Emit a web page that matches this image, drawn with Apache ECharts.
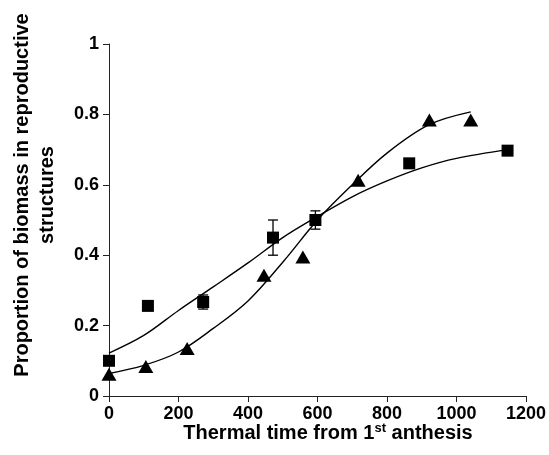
<!DOCTYPE html>
<html>
<head>
<meta charset="utf-8">
<script src="https://cdn.jsdelivr.net/npm/echarts@6/dist/echarts.min.js"></script>
<style>
  html, body { margin: 0; padding: 0; background: #fff; }
  #chart { width: 549px; height: 455px; }
</style>
</head>
<body>
<div id="chart"></div>
<script>
// observed points: squares (with error bars) and triangles
var squareX = [0, 112, 271, 472, 594, 864, 1147];
var squareY = [0.10, 0.256, 0.267, 0.45, 0.50, 0.661, 0.697];
var squareErr = [0.006, 0.012, 0.02, 0.05, 0.026, 0.012, 0.01];

var triangleX = [0, 106, 225, 446, 558, 717, 922, 1041];
var triangleY = [0.062, 0.084, 0.135, 0.343, 0.395, 0.613, 0.784, 0.784];

// fitted curves
var squareFitX = [0, 100, 200, 300, 400, 500, 600, 700, 800, 900, 1000, 1147];
var squareFitY = [0.122, 0.172, 0.243, 0.31, 0.378, 0.45, 0.51, 0.566, 0.611, 0.648, 0.675, 0.70];
var triangleFitX = [0, 100, 200, 300, 400, 500, 600, 700, 800, 920, 1041];
var triangleFitY = [0.064, 0.087, 0.125, 0.192, 0.27, 0.38, 0.50, 0.60, 0.69, 0.77, 0.807];

var xTicks = [0, 200, 400, 600, 800, 1000, 1200];

var pairs = function (xs, ys) {
    var res = [];
    for (var i = 0; i < xs.length; i++) {
        res.push([xs[i], ys[i]]);
    }
    return res;
};

var errData = [];
for (var i = 0; i < squareX.length; i++) {
    errData.push([squareX[i], squareY[i] - squareErr[i], squareY[i] + squareErr[i]]);
}

var fontFam = 'Liberation Sans, Arial, sans-serif';
var labelFont = { color: '#000', fontSize: 18, fontWeight: 'bold', fontFamily: fontFam };
var lineColor = '#222';

var chart = echarts.init(document.getElementById('chart'));
chart.setOption({
    animation: false,
    backgroundColor: '#fff',
    grid: { left: 109, right: 23, top: 44, bottom: 59 },
    xAxis: {
        type: 'value',
        min: xTicks[0],
        max: xTicks[xTicks.length - 1],
        interval: 200,
        splitLine: { show: false },
        axisLine: { lineStyle: { color: lineColor, width: 1 } },
        axisTick: { show: true, inside: false, length: 6, lineStyle: { color: lineColor } },
        axisLabel: Object.assign({ margin: 9, formatter: function (v) { return String(v); } }, labelFont)
    },
    yAxis: {
        type: 'value',
        min: 0,
        max: 1,
        interval: 0.2,
        splitLine: { show: false },
        axisLine: { show: true, lineStyle: { color: lineColor, width: 1 } },
        axisTick: { show: true, inside: false, length: 6, lineStyle: { color: lineColor } },
        axisLabel: Object.assign({ margin: 10, formatter: function (v) { return String(Math.round(v * 10) / 10); } }, labelFont)
    },
    graphic: [
        {
            type: 'text',
            x: 35,
            y: 195,
            rotation: Math.PI / 2,
            style: {
                text: 'Proportion of biomass in reproductive\nstructures',
                fill: '#000',
                font: 'bold 20px ' + fontFam,
                align: 'center',
                verticalAlign: 'middle',
                lineHeight: 25
            }
        },
        {
            type: 'text',
            x: 328,
            y: 433,
            style: {
                text: '{a|Thermal time from 1}{s|st}{a| anthesis}',
                align: 'center',
                verticalAlign: 'middle',
                rich: {
                    a: { fill: '#000', fontSize: 20, fontWeight: 'bold', fontFamily: fontFam },
                    s: { fill: '#000', fontSize: 13, fontWeight: 'bold', fontFamily: fontFam, padding: [0, 0, 10, 0] }
                }
            }
        }
    ],
    series: [
        {
            name: 'square fit',
            type: 'line',
            smooth: 0.35,
            showSymbol: false,
            data: pairs(squareFitX, squareFitY),
            lineStyle: { color: '#000', width: 1.4 },
            z: 2
        },
        {
            name: 'triangle fit',
            type: 'line',
            smooth: 0.35,
            showSymbol: false,
            data: pairs(triangleFitX, triangleFitY),
            lineStyle: { color: '#000', width: 1.4 },
            z: 2
        },
        {
            name: 'error',
            type: 'custom',
            data: errData,
            renderItem: function (params, api) {
                var x = api.value(0);
                var lo = api.coord([x, api.value(1)]);
                var hi = api.coord([x, api.value(2)]);
                var cap = 5;
                var st = { stroke: '#000', lineWidth: 1.3 };
                return {
                    type: 'group',
                    children: [
                        { type: 'line', shape: { x1: lo[0], y1: lo[1], x2: hi[0], y2: hi[1] }, style: st },
                        { type: 'line', shape: { x1: lo[0] - cap, y1: lo[1], x2: lo[0] + cap, y2: lo[1] }, style: st },
                        { type: 'line', shape: { x1: hi[0] - cap, y1: hi[1], x2: hi[0] + cap, y2: hi[1] }, style: st }
                    ]
                };
            },
            z: 3
        },
        {
            name: 'squares',
            type: 'scatter',
            symbol: 'rect',
            symbolSize: 12,
            data: pairs(squareX, squareY),
            itemStyle: { color: '#000', opacity: 1 },
            z: 4
        },
        {
            name: 'triangles',
            type: 'scatter',
            symbol: 'triangle',
            symbolSize: [15, 13],
            data: pairs(triangleX, triangleY),
            itemStyle: { color: '#000', opacity: 1 },
            z: 4
        }
    ]
});
</script>
</body>
</html>
